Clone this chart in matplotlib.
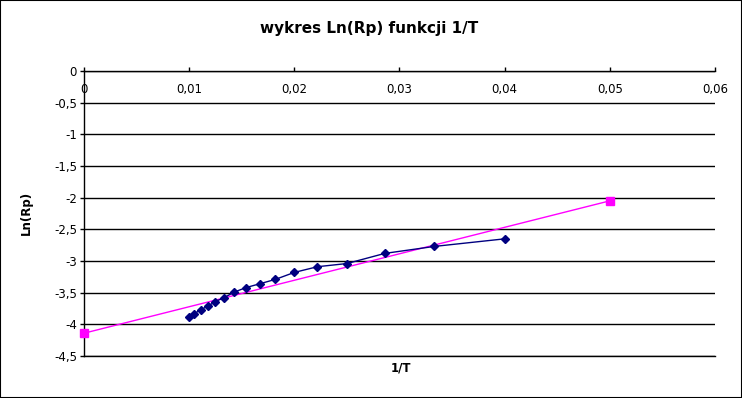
#!/usr/bin/env python3
import matplotlib

matplotlib.use("Agg")
import matplotlib.pyplot as plt
from matplotlib.patches import Rectangle
from matplotlib.ticker import FuncFormatter, MultipleLocator

# 1/T values (T = 25 ... 100) and measured Ln(Rp)
inv_t = [0.04, 0.0333, 0.0286, 0.025, 0.0222, 0.02, 0.0182, 0.0167,
         0.0154, 0.0143, 0.0133, 0.0125, 0.0118, 0.0111, 0.0105, 0.01]
ln_rp = [-2.65, -2.77, -2.88, -3.04, -3.09, -3.18, -3.29, -3.36,
         -3.42, -3.49, -3.58, -3.64, -3.71, -3.77, -3.83, -3.88]

# fitted line endpoints
fit_x = [0.0, 0.05]
fit_y = [-4.14, -2.05]

TITLE = "wykres Ln(Rp) funkcji 1/T"


def comma_fmt(value, _pos):
    text = f"{value:.2f}".rstrip("0").rstrip(".")
    if text in ("-0", ""):
        text = "0"
    return text.replace(".", ",")


fig = plt.figure(figsize=(7.42, 3.98), dpi=100)
ax = fig.add_axes([0.1132, 0.1055, 0.8504, 0.7161])

ax.plot(fit_x, fit_y, color="#ff00ff", linewidth=1, marker="s",
        markersize=5.5, zorder=3, clip_on=False)
ax.plot(inv_t, ln_rp, color="#000080", linewidth=1, marker="D",
        markersize=4.5, zorder=4)

ax.set_xlim(0, 0.06)
ax.set_ylim(-4.5, 0)
ax.xaxis.set_major_locator(MultipleLocator(0.01))
ax.yaxis.set_major_locator(MultipleLocator(0.5))
ax.xaxis.set_major_formatter(FuncFormatter(comma_fmt))
ax.yaxis.set_major_formatter(FuncFormatter(comma_fmt))

ax.xaxis.tick_top()
ax.tick_params(axis="x", direction="out", length=3, width=1, pad=-21,
               labelsize=8.5, colors="black")
ax.tick_params(axis="y", direction="out", length=3, width=1, pad=2,
               labelsize=8.5)

ax.spines["right"].set_visible(False)
for side in ("top", "left", "bottom"):
    ax.spines[side].set_linewidth(1)
ax.grid(True, axis="y", color="black", linewidth=1)
ax.set_axisbelow(True)

fig.text(369 / 742, 1 - 28 / 398, TITLE, ha="center", va="center",
         fontsize=11, fontweight="bold")
fig.text(401 / 742, 1 - 368 / 398, "1/T", ha="center", va="center",
         fontsize=8.5, fontweight="bold")
fig.text(26 / 742, 1 - 213 / 398, "Ln(Rp)", ha="center", va="center",
         rotation=90, fontsize=8.5, fontweight="bold")

fig.patches.append(Rectangle((0, 0), 1, 1, transform=fig.transFigure,
                             fill=False, edgecolor="black", linewidth=1.5))

fig.savefig("out.png", dpi=100)
